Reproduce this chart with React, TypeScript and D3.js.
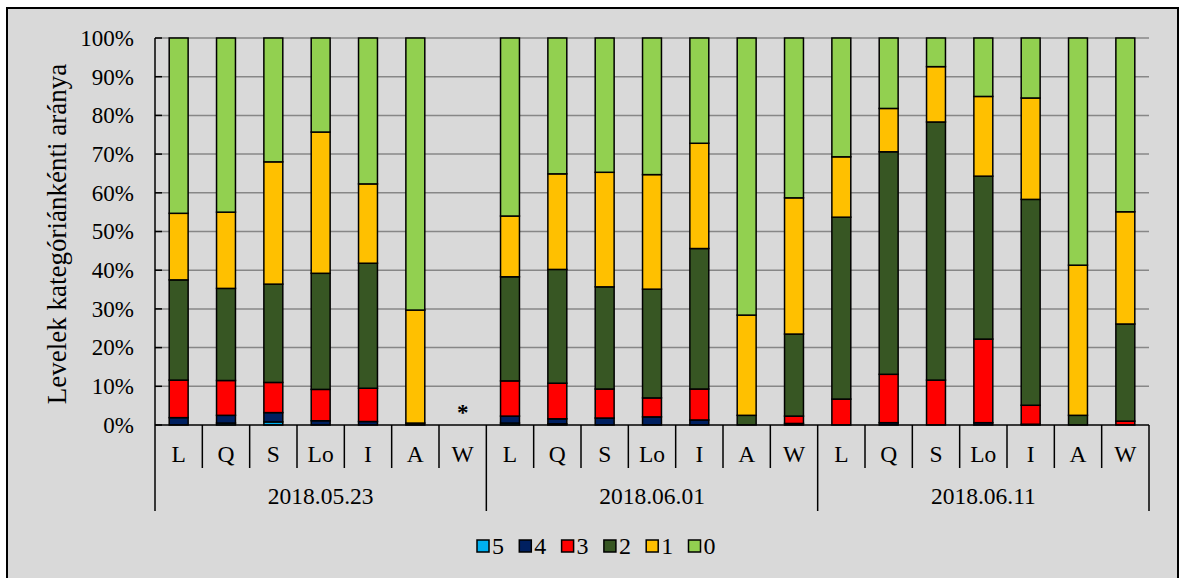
import React, { useEffect, useRef } from "react";
import * as d3 from "d3";

const WIDTH = 1179;
const HEIGHT = 578;
const MARGIN = { top: 38, right: 30, bottom: 153, left: 155 };
const INNER_WIDTH = WIDTH - MARGIN.left - MARGIN.right;
const INNER_HEIGHT = HEIGHT - MARGIN.top - MARGIN.bottom;
const FONT = "'Liberation Serif', 'Times New Roman', serif";

const GROUPS = ["2018.05.23", "2018.06.01", "2018.06.11"];
const CATEGORIES = ["L", "Q", "S", "Lo", "I", "A", "W"];
const LEVELS = ["5", "4", "3", "2", "1", "0"];
const COLORS = ["#00B0F0", "#002060", "#FF0000", "#375623", "#FFC000", "#92D050"];
const Y_TICKS = [0, 10, 20, 30, 40, 50, 60, 70, 80, 90, 100];

// values per level, 7 bars per date, null = no data (the * bar)
const LEVEL_5 = [0, 0.5, 0.8, 0, 0, 0, null, 0.5, 0.3, 0, 0, 0, 0, 0, 0, 0, 0, 0, 0, 0, 0];
const LEVEL_4 = [1.9, 2.0, 2.4, 1.1, 0.9, 0, null, 1.8, 1.3, 1.8, 2.1, 1.3, 0, 0.4, 0, 0.6, 0, 0.6, 0.2, 0, 0];
const LEVEL_3 = [9.7, 9.0, 7.8, 8.1, 8.6, 0, null, 9.1, 9.2, 7.5, 4.9, 8.0, 0, 1.9, 6.7, 12.5, 11.6, 21.6, 4.9, 0, 1.0];
const LEVEL_2 = [25.9, 23.8, 25.4, 30.0, 32.3, 0.5, null, 26.9, 29.4, 26.4, 28.1, 36.3, 2.5, 21.2, 47.0, 57.5, 66.7, 42.1, 53.2, 2.5, 25.1];
const LEVEL_1 = [17.2, 19.7, 31.6, 36.5, 20.5, 29.2, null, 15.7, 24.7, 29.6, 29.6, 27.2, 25.9, 35.2, 15.6, 11.2, 14.3, 20.6, 26.2, 38.8, 29.0];
const LEVEL_0 = [45.3, 45.0, 32.0, 24.3, 37.7, 70.3, null, 46.0, 35.1, 34.7, 35.3, 27.2, 71.6, 41.3, 30.7, 18.2, 7.4, 15.1, 15.5, 58.7, 44.9];
const SERIES = [LEVEL_5, LEVEL_4, LEVEL_3, LEVEL_2, LEVEL_1, LEVEL_0];

export default function App() {
  const ref = useRef<SVGSVGElement>(null);

  useEffect(() => {
    const root = d3.select(ref.current);
    root.selectAll("*").remove();

    // outer frame
    root
      .append("rect")
      .attr("x", 7)
      .attr("y", 8)
      .attr("width", WIDTH - 8)
      .attr("height", HEIGHT + 10)
      .attr("fill", "#D9D9D9")
      .attr("stroke", "black")
      .attr("stroke-width", 2);

    const svg = root
      .append("g")
      .attr("transform", "translate(" + MARGIN.left + "," + MARGIN.top + ")");

    const rows = GROUPS.flatMap((g, gi) =>
      CATEGORIES.map((c, ci) => {
        const idx = gi * CATEGORIES.length + ci;
        const row: any = { key: g + "|" + c, group: g, cat: c, missing: SERIES[0][idx] === null };
        LEVELS.forEach((l, li) => (row[l] = SERIES[li][idx] ?? 0));
        return row;
      })
    );

    const x = d3
      .scaleBand()
      .domain(rows.map((r) => r.key))
      .range([0, INNER_WIDTH])
      .paddingInner(0.6)
      .paddingOuter(0.3);
    const y = d3.scaleLinear().domain([0, 100]).range([INNER_HEIGHT, 0]);
    const step = x.step();

    // grid
    svg
      .append("g")
      .selectAll("line")
      .data(Y_TICKS.filter((t) => t > 0))
      .join("line")
      .attr("x1", 0)
      .attr("x2", INNER_WIDTH)
      .attr("y1", (d) => y(d))
      .attr("y2", (d) => y(d))
      .attr("stroke", "#878787")
      .attr("stroke-width", 1.5);

    // bars
    const stacked = d3.stack().keys(LEVELS)(rows);
    stacked.forEach((layer, li) => {
      svg
        .append("g")
        .selectAll("rect")
        .data(layer.filter((d: any) => !d.data.missing && d[1] - d[0] > 0))
        .join("rect")
        .attr("x", (d: any) => x(d.data.key)!)
        .attr("width", x.bandwidth())
        .attr("y", (d) => y(d[1]))
        .attr("height", (d) => y(d[0]) - y(d[1]))
        .attr("fill", COLORS[li])
        .attr("stroke", "black")
        .attr("stroke-width", 1.5);
    });

    // missing marker
    rows
      .filter((r) => r.missing)
      .forEach((r) => {
        svg
          .append("text")
          .attr("x", x(r.key)! + x.bandwidth() / 2)
          .attr("y", INNER_HEIGHT - 5)
          .attr("text-anchor", "middle")
          .attr("font-family", FONT)
          .attr("font-size", "23px")
          .attr("font-weight", "bold")
          .text("*");
      });

    // y axis
    svg
      .append("line")
      .attr("x1", 0)
      .attr("x2", 0)
      .attr("y1", 0)
      .attr("y2", INNER_HEIGHT + 86)
      .attr("stroke", "black")
      .attr("stroke-width", 1.5);
    svg
      .append("g")
      .selectAll("line")
      .data(Y_TICKS)
      .join("line")
      .attr("x1", 0)
      .attr("x2", 7)
      .attr("y1", (d) => y(d))
      .attr("y2", (d) => y(d))
      .attr("stroke", "black")
      .attr("stroke-width", 1.5);
    svg
      .append("g")
      .selectAll("text")
      .data(Y_TICKS)
      .join("text")
      .attr("x", -21)
      .attr("y", (d) => y(d))
      .attr("dy", "0.34em")
      .attr("text-anchor", "end")
      .attr("font-family", FONT)
      .attr("font-size", "23px")
      .text((d) => d + "%");

    // x axis
    svg
      .append("line")
      .attr("x1", 0)
      .attr("x2", INNER_WIDTH)
      .attr("y1", INNER_HEIGHT)
      .attr("y2", INNER_HEIGHT)
      .attr("stroke", "black")
      .attr("stroke-width", 1.5);
    svg
      .append("g")
      .selectAll("line")
      .data(rows)
      .join("line")
      .attr("x1", (d) => x(d.key)! + x.bandwidth() / 2 + step / 2)
      .attr("x2", (d) => x(d.key)! + x.bandwidth() / 2 + step / 2)
      .attr("y1", INNER_HEIGHT)
      .attr("y2", (d, i) => INNER_HEIGHT + ((i + 1) % CATEGORIES.length === 0 ? 86 : 43))
      .attr("stroke", "black")
      .attr("stroke-width", 1.5);
    svg
      .append("g")
      .selectAll("text")
      .data(rows)
      .join("text")
      .attr("x", (d) => x(d.key)! + x.bandwidth() / 2)
      .attr("y", INNER_HEIGHT + 37)
      .attr("text-anchor", "middle")
      .attr("font-family", FONT)
      .attr("font-size", "23.5px")
      .text((d) => d.cat);
    svg
      .append("g")
      .selectAll("text")
      .data(GROUPS)
      .join("text")
      .attr("x", (d) => {
        const first = x(d + "|" + CATEGORIES[0])!;
        const last = x(d + "|" + CATEGORIES[CATEGORIES.length - 1])!;
        return (first + last + x.bandwidth()) / 2;
      })
      .attr("y", INNER_HEIGHT + 79)
      .attr("text-anchor", "middle")
      .attr("font-family", FONT)
      .attr("font-size", "23.5px")
      .text((d) => d);

    // y title
    root
      .append("text")
      .attr("transform", "translate(66,234) rotate(-90)")
      .attr("text-anchor", "middle")
      .attr("font-family", FONT)
      .attr("font-size", "27px")
      .text("Levelek kategóriánkénti aránya");

    // legend
    const legend = root
      .append("g")
      .attr("transform", "translate(477,540)")
      .selectAll("g")
      .data(LEVELS)
      .join("g")
      .attr("transform", (d, i) => "translate(" + i * 42.3 + ",0)");
    legend
      .append("rect")
      .attr("width", 12)
      .attr("height", 12)
      .attr("fill", (d, i) => COLORS[i])
      .attr("stroke", "black")
      .attr("stroke-width", 1.5);
    legend
      .append("text")
      .attr("x", 15)
      .attr("y", 13.5)
      .attr("font-family", FONT)
      .attr("font-size", "24px")
      .text((d) => d);
  }, []);

  return (
    <svg
      ref={ref}
      width={WIDTH}
      height={HEIGHT}
      style={{ position: "absolute", left: 0, top: 0, background: "white" }}
    />
  );
}
